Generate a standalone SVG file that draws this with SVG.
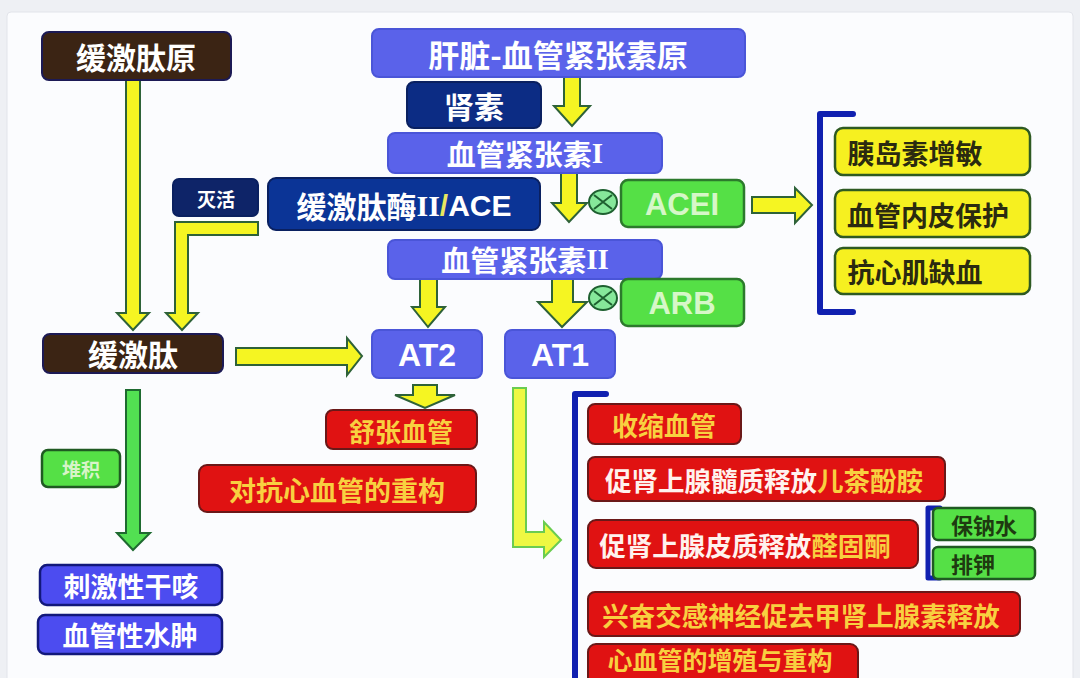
<svg xmlns="http://www.w3.org/2000/svg" width="1080" height="678" viewBox="0 0 1080 678">
<defs>
<style>
text{font-family:"Noto Sans CJK SC","Noto Sans",sans-serif;font-weight:bold;text-anchor:middle;dominant-baseline:central}
.lat{font-family:"Liberation Sans","Noto Sans",sans-serif}
.brown{fill:#3b2414;stroke:#1c1a55;stroke-width:2}
.blue{fill:#5a62ea;stroke:#4a55d8;stroke-width:2}
.navy{fill:#0c2c84;stroke:#0a2060;stroke-width:2}
.green{fill:#55e046;stroke:#2c7a2c;stroke-width:2.5}
.yel{fill:#f6f020;stroke:#2e5a22;stroke-width:2.5}
.red{fill:#e01212;stroke:#6a1818;stroke-width:2}
.bb{fill:#4c4cf0;stroke:#12187a;stroke-width:2.5}
.sg{fill:#55e046;stroke:#1f5a22;stroke-width:2.5}
.tw{fill:#ffffff}
.tg{fill:#f8d040}
.tp{fill:#fff2ee}
.td{fill:#2a2a10}
.tl{fill:#d6f7c8}
.arr{fill:#f5f522;stroke:#2e6238;stroke-width:2;stroke-linejoin:miter}
.garr{fill:#52e052;stroke:#1e6a30;stroke-width:2}
.larr{fill:#eef842;stroke:#6acc50;stroke-width:2}
.brk{fill:none;stroke:#1020b0;stroke-width:6;stroke-linejoin:round;stroke-linecap:round}
.ot{fill:#86e89a;stroke:#1e6030;stroke-width:2}
</style>
</defs>
<rect width="1080" height="678" fill="#eef0f4"/>
<rect x="7" y="12" width="1066" height="680" rx="4" fill="#fbfcfe" stroke="#e2e4ea"/>

<g id="connectors">
<path class="arr" d="M126,80 H140 V313 H149 L133,330 L117,313 H126 Z"/>
<path class="arr" d="M258,222 V235 H188 V313 H198 L182,330 L166,313 H175 V222 Z"/>
<path class="arr" d="M564,77 H580 V106 H590 L572,126 L554,106 H564 Z"/>
<path class="arr" d="M561,173 H577 V203 H587 L569,222 L552,203 H561 Z"/>
<path class="arr" d="M420,279 H437 V307 H445 L428,327 L412,307 H420 Z"/>
<path class="arr" d="M552,279 H573 V302 H587 L562,327 L538,302 H552 Z"/>
<path class="arr" d="M236,348 H347 V338 L362,356 L347,375 V365 H236 Z"/>
<path class="arr" d="M413,385 H437 V395 H455 L425,408 L395,395 H413 Z"/>
<path class="arr" d="M752,197 H795 V188 L812,205 L795,223 V213 H752 Z"/>
<path class="garr" d="M126,390 H140 V533 H150 L133,550 L117,533 H126 Z"/>
<path class="larr" d="M513,388 H526 V532 H544 V522 L561,540 L544,557 V547 H513 Z"/>
<g id="inhibit1">
<ellipse class="ot" cx="603" cy="202" rx="14" ry="12"/>
<path d="M594,195 L612,209 M612,195 L594,209" stroke="#1e6030" stroke-width="2"/>
</g>
<g id="inhibit2">
<ellipse class="ot" cx="603" cy="298" rx="14" ry="12"/>
<path d="M594,291 L612,305 M612,291 L594,305" stroke="#1e6030" stroke-width="2"/>
</g>
<path class="brk" d="M853,114 H820 V312 H853"/>
<path class="brk" d="M606,394 H575 V690"/>
<path class="brk" d="M940,508 H928 V578 H940" style="stroke-width:5"/>
</g>

<g id="n-kininogen"><rect class="brown" x="42" y="32" width="189" height="48" rx="7"/><text class="tw" x="136" y="56" font-size="30">缓激肽原</text></g>
<g id="n-angiotensinogen"><rect class="blue" x="372" y="29" width="373" height="48" rx="7"/><text class="tw" x="558" y="53" font-size="31">肝脏-血管紧张素原</text></g>
<g id="n-renin"><rect class="navy" x="407" y="82" width="134" height="46" rx="7"/><text class="tw" x="474" y="105" font-size="30">肾素</text></g>
<g id="n-ang1"><rect class="blue" x="388" y="133" width="274" height="40" rx="7"/><text class="tw" x="525" y="153" font-size="29">血管紧张素<tspan font-family="Liberation Serif,serif">I</tspan></text></g>
<g id="n-inactivate"><rect class="navy" x="173" y="179" width="85" height="37" rx="6" style="fill:#0e2468"/><text class="tw" x="216" y="198" font-size="19">灭活</text></g>
<g id="n-ace"><rect class="navy" x="268" y="178" width="272" height="52" rx="8" style="fill:#0b3496"/><text class="tw" x="404" y="205" font-size="30">缓激肽酶<tspan font-family="Liberation Serif,serif">II</tspan><tspan fill="#e8e860" font-family="Liberation Sans,sans-serif">/</tspan><tspan font-family="Liberation Sans,sans-serif">ACE</tspan></text></g>
<g id="n-acei"><rect class="green" x="621" y="180" width="123" height="47" rx="7"/><text class="tl lat" x="682" y="204" font-size="31">ACEI</text></g>
<g id="n-ang2"><rect class="blue" x="388" y="240" width="274" height="39" rx="7"/><text class="tw" x="525" y="259" font-size="29">血管紧张素<tspan font-family="Liberation Serif,serif">II</tspan></text></g>
<g id="n-arb"><rect class="green" x="621" y="279" width="123" height="47" rx="7"/><text class="tl lat" x="682" y="303" font-size="31">ARB</text></g>
<g id="n-bradykinin"><rect class="brown" x="43" y="334" width="180" height="39" rx="7"/><text class="tw" x="133" y="353" font-size="30">缓激肽</text></g>
<g id="n-at2"><rect class="blue" x="372" y="330" width="110" height="48" rx="7"/><text class="tw lat" x="427" y="355" font-size="32">AT2</text></g>
<g id="n-at1"><rect class="blue" x="505" y="330" width="110" height="48" rx="7"/><text class="tw lat" x="560" y="355" font-size="32">AT1</text></g>

<g id="n-insulin"><rect class="yel" x="835" y="128" width="195" height="47" rx="8"/><text class="td" x="915" y="152" font-size="27">胰岛素增敏</text></g>
<g id="n-endo"><rect class="yel" x="835" y="190" width="195" height="47" rx="8"/><text class="td" x="928" y="214" font-size="27">血管内皮保护</text></g>
<g id="n-ischemia"><rect class="yel" x="835" y="248" width="195" height="46" rx="8"/><text class="td" x="915" y="271" font-size="27">抗心肌缺血</text></g>

<g id="n-vasodilate"><rect class="red" x="326" y="410" width="151" height="39" rx="7"/><text class="tg" x="401" y="430" font-size="26">舒张血管</text></g>
<g id="n-antiremodel"><rect class="red" x="199" y="465" width="277" height="47" rx="8"/><text class="tg" x="337" y="489" font-size="27">对抗心血管的重构</text></g>

<g id="n-accum"><rect class="sg" x="42" y="450" width="78" height="37" rx="6"/><text x="81" y="468" font-size="19" fill="#d8f4c8">堆积</text></g>
<g id="n-cough"><rect class="bb" x="40" y="565" width="182" height="40" rx="7"/><text class="tw" x="131" y="585" font-size="27">刺激性干咳</text></g>
<g id="n-edema"><rect class="bb" x="38" y="615" width="184" height="39" rx="7"/><text class="tw" x="130" y="634" font-size="27">血管性水肿</text></g>

<g id="n-constrict"><rect class="red" x="588" y="404" width="153" height="40" rx="7"/><text class="tg" x="664" y="424" font-size="26">收缩血管</text></g>
<g id="n-catechol"><rect class="red" x="588" y="457" width="357" height="44" rx="7"/><text x="764" y="479" font-size="26.5"><tspan class="tp">促肾上腺髓质释放</tspan><tspan class="tg">儿茶酚胺</tspan></text></g>
<g id="n-aldo"><rect class="red" x="588" y="520" width="330" height="48" rx="8"/><text x="745" y="544" font-size="26.5"><tspan class="tp">促肾上腺皮质释放</tspan><tspan class="tg">醛固酮</tspan></text></g>
<g id="n-na"><rect class="sg" x="933" y="508" width="102" height="32" rx="5"/><text x="984" y="524" font-size="22" fill="#1e3a10">保钠水</text></g>
<g id="n-k"><rect class="sg" x="933" y="547" width="102" height="32" rx="5"/><text x="973" y="563" font-size="22" fill="#1e3a10">排钾</text></g>
<g id="n-sympa"><rect class="red" x="588" y="592" width="432" height="44" rx="7"/><text class="tg" x="801" y="614" font-size="26.5">兴奋交感神经促去甲肾上腺素释放</text></g>
<g id="n-prolif"><rect class="red" x="588" y="644" width="270" height="46" rx="8"/><text class="tg" x="720" y="659" font-size="25">心血管的增殖与重构</text></g>
</svg>
